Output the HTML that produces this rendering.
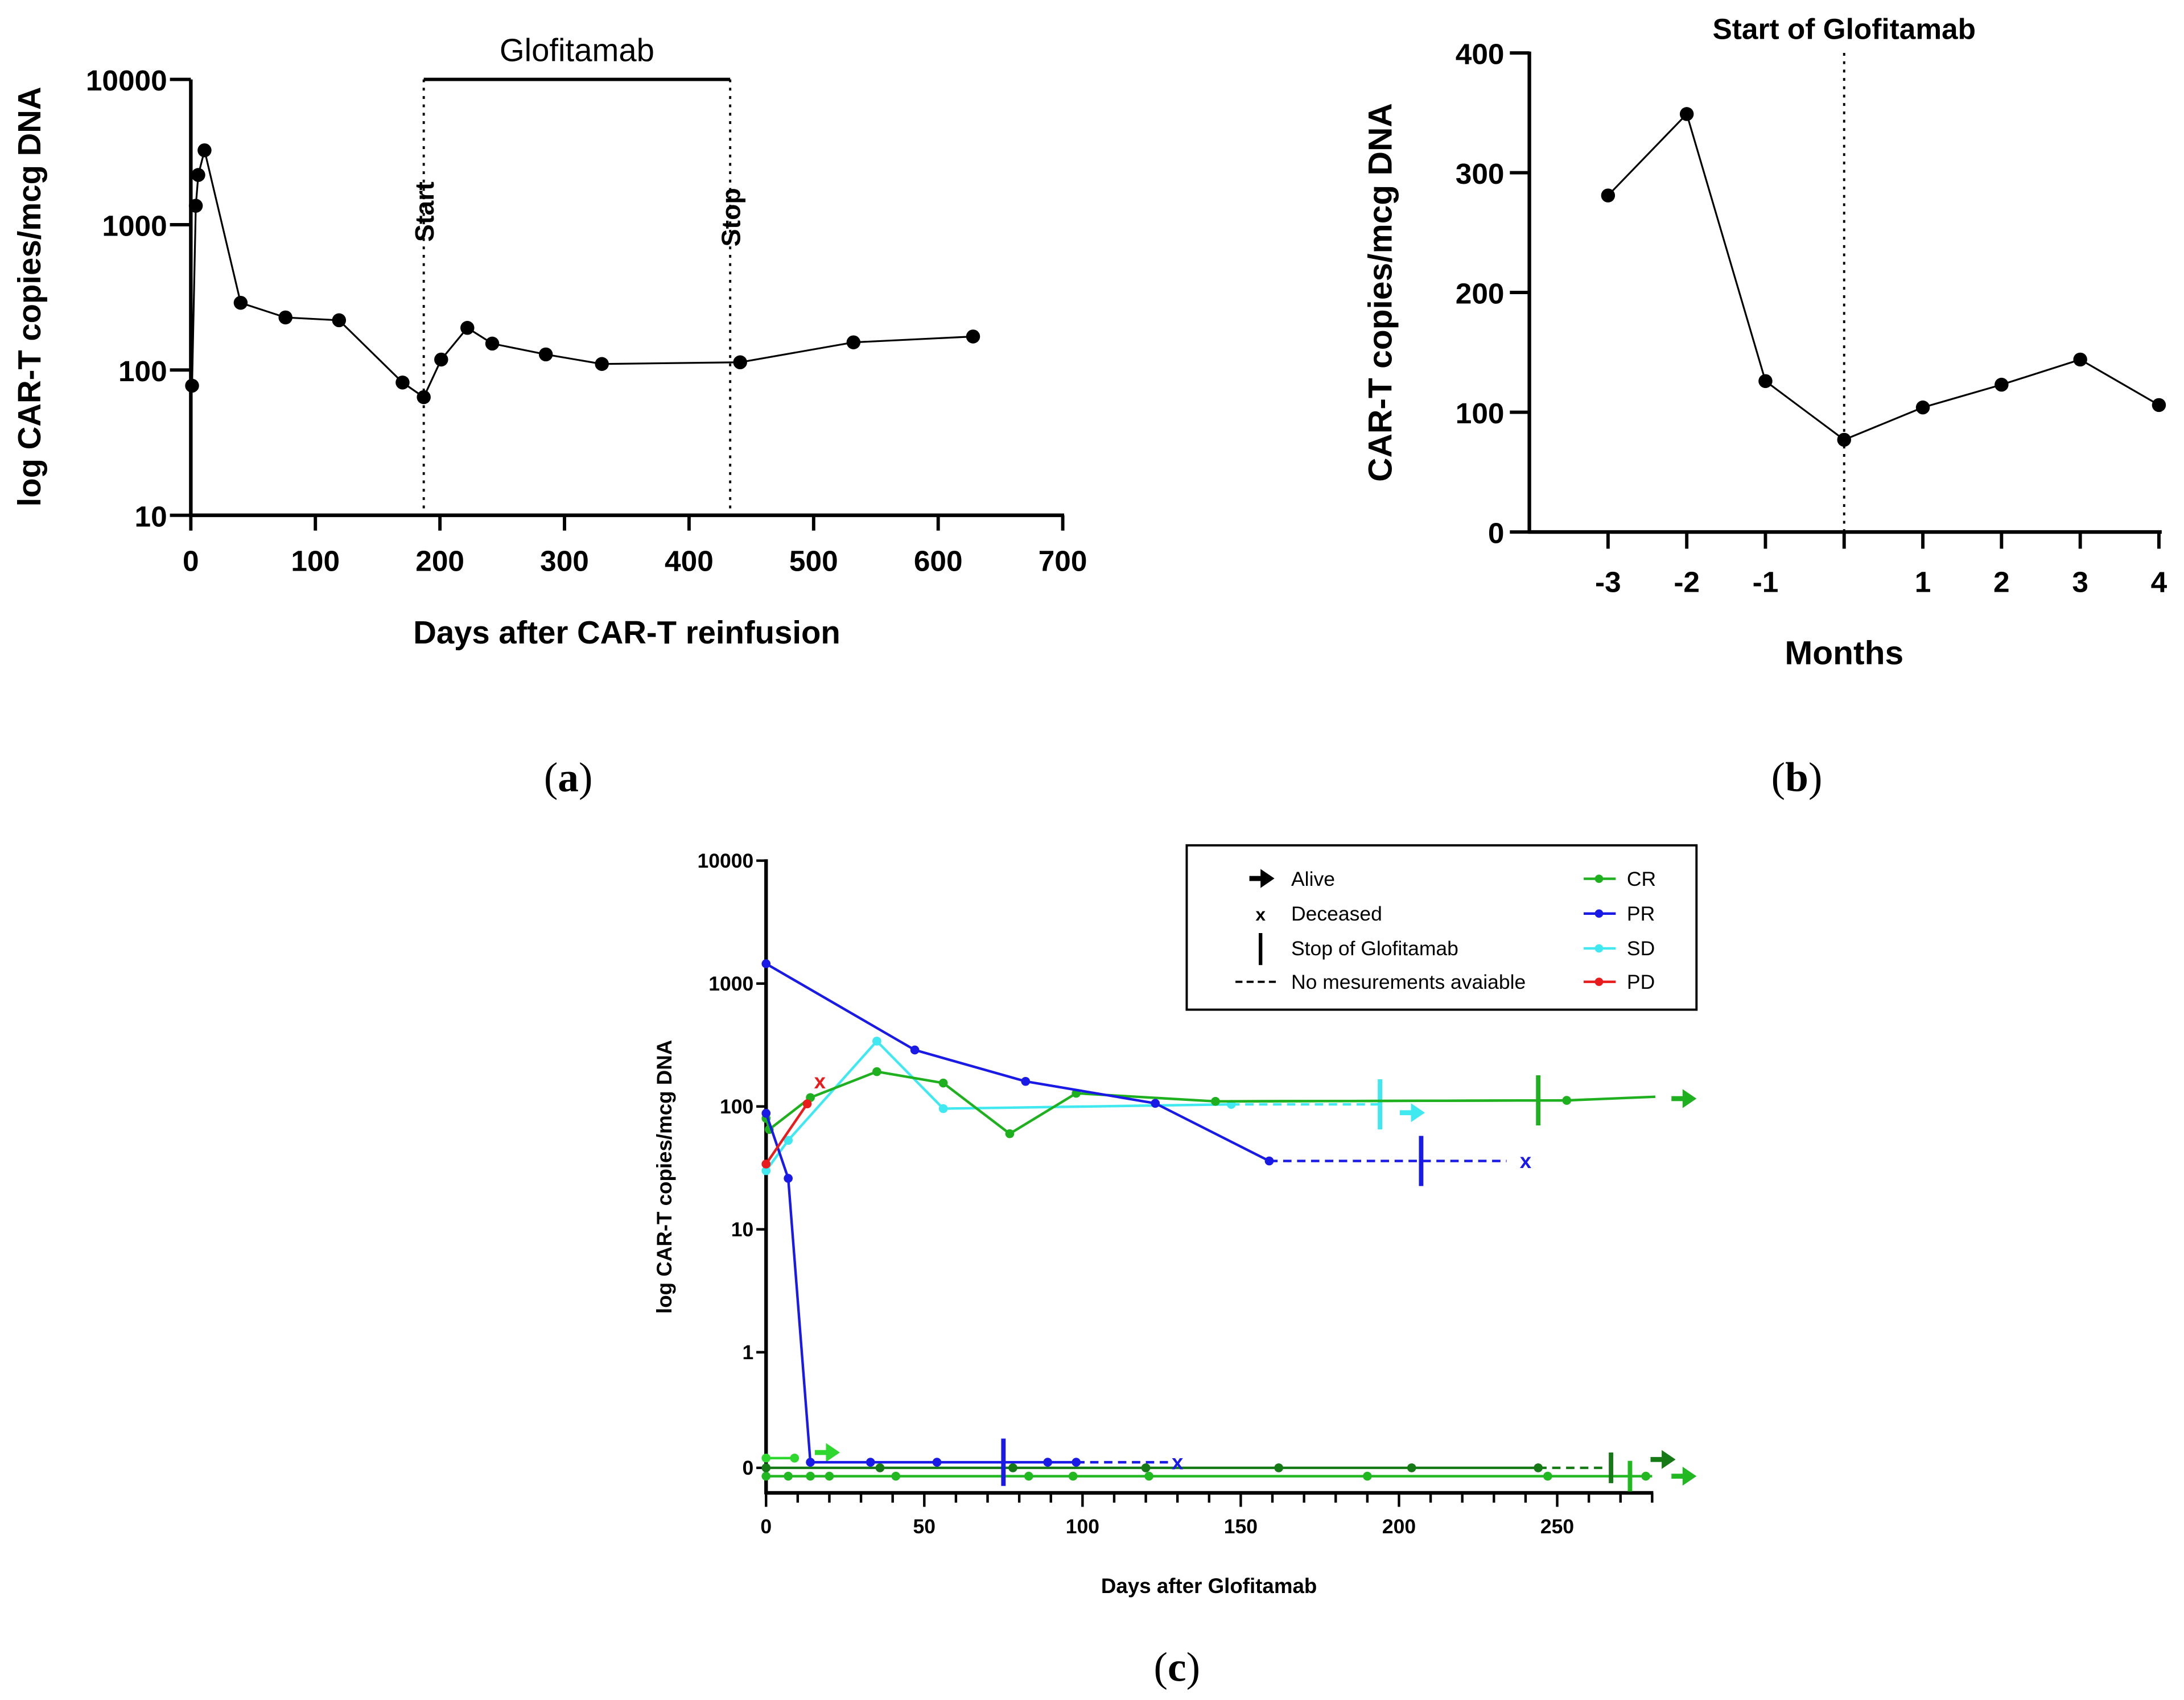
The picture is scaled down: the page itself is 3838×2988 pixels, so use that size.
<!DOCTYPE html>
<html><head><meta charset="utf-8"><style>
html,body{margin:0;padding:0;background:#fff}
svg{display:block}
text{font-family:"Liberation Sans",Arial,sans-serif}
text.serif{font-family:"Liberation Serif","DejaVu Serif",serif}
</style></head><body>
<svg id="fig" xmlns="http://www.w3.org/2000/svg" width="3838" height="2988" viewBox="0 0 1568 1220.7">
<rect width="1568" height="1220.7" fill="#fff"/>
<g id="pa"></g>
<g id="pb"></g>
<g id="pc"></g>
<text class="serif" x="408" y="568" font-size="30" text-anchor="middle">(<tspan font-weight="bold">a</tspan>)</text>
<text class="serif" x="1290" y="568" font-size="30" text-anchor="middle">(<tspan font-weight="bold">b</tspan>)</text>
<text class="serif" x="845" y="1207" font-size="30" text-anchor="middle">(<tspan font-weight="bold">c</tspan>)</text>
</svg>
<script>
// ---- Panel A data ----
const aDays = [1,4,6,11,40,76,119,170,187,201,222,242,285,330,441,532,628];
const aValues = [78,1350,2200,3250,290,230,220,82,65,118,195,152,128,110,113,155,170];
const aXTicks = [0,100,200,300,400,500,600,700];
const aYTicks = [10,100,1000,10000];
const aStartDay = 187, aStopDay = 433;
// ---- Panel B data ----
const bMonths = [-3,-2,-1,0,1,2,3,4];
const bValues = [281,349,126,77,104,123,144,106];
const bXTickLabels = ["-3","-2","-1","","1","2","3","4"];
const bYTicks = [0,100,200,300,400];
// ---- Panel C data ----
const cXTicks = [0,50,100,150,200,250];
const cYTicks = [10000,1000,100,10,1,0];
const prHighDays = [0,47,82,123,159];
const prHighVals = [1450,288,160,106,36];
const prLowDays = [0,7,14,33,54,89,98];
const prLowVals = [88,26,0.08,0.08,0.08,0.08,0.08];
const sdDays = [0,7,35,56,147];
const sdVals = [30,53,340,96,104];
const crDays = [0,1,14,35,56,77,98,142,253];
const crVals = [80,65,118,192,155,60,128,110,112];
const pdDays = [0,13];
const pdVals = [34,105];
const lgDays = [0,9];
const lgVals = [0.14,0.14];
const dgDays = [0,36,78,120,162,204,244];
const dgVals = [0,0,0,0,0,0,0];
const g2Days = [0,7,14,20,41,83,97,121,190,247,278];
const g2Vals = [-0.12,-0.12,-0.12,-0.12,-0.12,-0.12,-0.12,-0.12,-0.12,-0.12,-0.12];

const NS="http://www.w3.org/2000/svg";
function mk(parent,tag,attrs,txt){const e=document.createElementNS(NS,tag);for(const k in attrs)e.setAttribute(k,attrs[k]);if(txt!==undefined)e.textContent=txt;parent.appendChild(e);return e;}

// ===== Panel A =====
const pa=document.getElementById('pa');
const ax=d=>137+d*(626/700);
const ay=v=>370-(Math.log10(v)-1)*104.33;
let e;
e=mk(pa,'line',{x1:137,y1:57,x2:137,y2:371,stroke:'#000','stroke-width':2.6});

e=mk(pa,'line',{x1:136,y1:370,x2:764,y2:370,stroke:'#000','stroke-width':2.6});

aXTicks.forEach(t=>{mk(pa,'line',{x1:ax(t),y1:370,x2:ax(t),y2:381,stroke:'#000','stroke-width':2.4});
 e=mk(pa,'text',{x:ax(t),y:410,'font-size':21,'font-weight':'bold','text-anchor':'middle'},String(t));
 });
aYTicks.forEach(t=>{mk(pa,'line',{x1:122,y1:ay(t),x2:137,y2:ay(t),stroke:'#000','stroke-width':2.4});
 e=mk(pa,'text',{x:120,y:ay(t)+8,'font-size':21,'font-weight':'bold','text-anchor':'end'},String(t));
 });
[aStartDay,aStopDay].forEach((d,i)=>{e=mk(pa,'line',{x1:ax(d),y1:57,x2:ax(d),y2:370,stroke:'#000','stroke-width':1.6,'stroke-dasharray':'2,4'});
 
 e=mk(pa,'text',{x:0,y:0,'font-size':19,'font-weight':'bold','text-anchor':'middle',transform:`translate(${ax(d)+7},${i?156:152}) rotate(-90)`},i?'Stop':'Start');
 });
e=mk(pa,'line',{x1:ax(aStartDay),y1:57,x2:ax(aStopDay),y2:57,stroke:'#000','stroke-width':2.4});

e=mk(pa,'text',{x:(ax(aStartDay)+ax(aStopDay))/2,y:44,'font-size':23,'text-anchor':'middle'},'Glofitamab');

e=mk(pa,'polyline',{points:aDays.map((d,i)=>ax(d)+','+ay(aValues[i])).join(' '),fill:'none',stroke:'#000','stroke-width':1.3});

aDays.forEach((d,i)=>{e=mk(pa,'circle',{cx:ax(d),cy:ay(aValues[i]),r:5,fill:'#000'});
 });
e=mk(pa,'text',{x:0,y:0,'font-size':23,'font-weight':'bold','text-anchor':'middle',transform:'translate(29,213) rotate(-90)'},'log CAR-T copies/mcg DNA');

e=mk(pa,'text',{x:450,y:462,'font-size':23,'font-weight':'bold','text-anchor':'middle'},'Days after CAR-T reinfusion');


// ===== Panel B =====
const pb=document.getElementById('pb');
const bx=m=>1324+m*56.5;
const by=v=>382-v*0.86;
e=mk(pb,'line',{x1:1098,y1:37,x2:1098,y2:383,stroke:'#000','stroke-width':2.6});

e=mk(pb,'line',{x1:1097,y1:382,x2:1552,y2:382,stroke:'#000','stroke-width':2.6});

bMonths.forEach((m,i)=>{mk(pb,'line',{x1:bx(m),y1:382,x2:bx(m),y2:394,stroke:'#000','stroke-width':2.4});
 e=mk(pb,'text',{x:bx(m),y:425,'font-size':21,'font-weight':'bold','text-anchor':'middle'},bXTickLabels[i]);
 });
bYTicks.forEach(t=>{mk(pb,'line',{x1:1084,y1:by(t),x2:1098,y2:by(t),stroke:'#000','stroke-width':2.4});
 e=mk(pb,'text',{x:1080,y:by(t)+8,'font-size':21,'font-weight':'bold','text-anchor':'end'},String(t));
 });
e=mk(pb,'line',{x1:bx(0),y1:38,x2:bx(0),y2:382,stroke:'#000','stroke-width':1.6,'stroke-dasharray':'2,4'});

e=mk(pb,'text',{x:bx(0),y:28,'font-size':21,'font-weight':'bold','text-anchor':'middle'},'Start of Glofitamab');

e=mk(pb,'polyline',{points:bMonths.map((m,i)=>bx(m)+','+by(bValues[i])).join(' '),fill:'none',stroke:'#000','stroke-width':1.3});

bMonths.forEach((m,i)=>{e=mk(pb,'circle',{cx:bx(m),cy:by(bValues[i]),r:5,fill:'#000'});
 });
e=mk(pb,'text',{x:0,y:0,'font-size':24,'font-weight':'bold','text-anchor':'middle',transform:'translate(999,210) rotate(-90)'},'CAR-T copies/mcg DNA');

e=mk(pb,'text',{x:1324,y:477,'font-size':24,'font-weight':'bold','text-anchor':'middle'},'Months');


// ===== Panel C =====
const pc=document.getElementById('pc');
const cx=d=>550+d*2.272;
const cy=v=>v>=1?971-Math.log10(v)*88.25:1054-v*50;
const BLUE='#1a1ae6',CYAN='#40e8f0',GREEN='#1fb01f',RED='#e81c1c',LG='#2fd82f',DG='#157a15',G2='#22b822';
e=mk(pc,'line',{x1:550,y1:617,x2:550,y2:1073,stroke:'#000','stroke-width':2.6});

e=mk(pc,'line',{x1:549,y1:1072,x2:1187,y2:1072,stroke:'#000','stroke-width':2.6});

for(let d=0;d<=280;d+=10){mk(pc,'line',{x1:cx(d),y1:1072,x2:cx(d),y2:d%50===0?1082:1079,stroke:'#000','stroke-width':1.8});}
cXTicks.forEach(t=>{e=mk(pc,'text',{x:cx(t),y:1101,'font-size':14.5,'font-weight':'bold','text-anchor':'middle'},String(t));
 });
cYTicks.forEach(t=>{mk(pc,'line',{x1:543,y1:cy(t),x2:550,y2:cy(t),stroke:'#000','stroke-width':1.8});
 e=mk(pc,'text',{x:541,y:cy(t)+5,'font-size':14.5,'font-weight':'bold','text-anchor':'end'},String(t));
 });
e=mk(pc,'text',{x:0,y:0,'font-size':15,'font-weight':'bold','text-anchor':'middle',transform:'translate(482,845) rotate(-90)'},'log CAR-T copies/mcg DNA');

e=mk(pc,'text',{x:868,y:1144,'font-size':15,'font-weight':'bold','text-anchor':'middle'},'Days after Glofitamab');


function series(days,vals,color,name){
 e=mk(pc,'polyline',{points:days.map((d,i)=>cx(d)+','+cy(vals[i])).join(' '),fill:'none',stroke:color,'stroke-width':1.8});
 
 days.forEach((d,i)=>{e=mk(pc,'circle',{cx:cx(d),cy:cy(vals[i]),r:3.2,fill:color});
  });}
function dash(d1,d2,v,color){e=mk(pc,'line',{x1:cx(d1),y1:cy(v),x2:cx(d2),y2:cy(v),stroke:color,'stroke-width':1.8,'stroke-dasharray':'6,4'});
 }
function bar(d,v,color,h){e=mk(pc,'line',{x1:cx(d),y1:cy(v)-h,x2:cx(d),y2:cy(v)+h,stroke:color,'stroke-width':3.2});
 }
function arrow(x,y,color){e=mk(pc,'path',{d:`M${x},${y-1.8}h8v-5l10,6.8l-10,6.8v-5h-8z`,fill:color});
 }
function cross(d,v,color){e=mk(pc,'text',{x:cx(d),y:cy(v)+5,'font-size':15,'font-weight':'bold','text-anchor':'middle',fill:color},'x');
 }

series(g2Days,g2Vals,G2,'cr-low-2');
e=mk(pc,'line',{x1:cx(278),y1:cy(-0.12),x2:cx(280),y2:cy(-0.12),stroke:G2,'stroke-width':1.8});
bar(273,-0.12,G2,11);arrow(1200,cy(-0.12),G2);
series(dgDays,dgVals,DG,'cr-low-1');dash(244,266,0,DG);bar(267,0,DG,11);arrow(1185,cy(0)-6,DG);
series(lgDays,lgVals,LG,'cr-low-3');arrow(585,cy(0.14)-4,LG);
series(sdDays,sdVals,CYAN,'sd');dash(147,194,104,CYAN);bar(194,104,CYAN,18);arrow(1005,cy(104)+6,CYAN);
series(crDays,crVals,GREEN,'cr');
e=mk(pc,'polyline',{points:`${cx(142)},${cy(110)} ${cx(253)},${cy(112)} ${cx(281)},${cy(120)}`,fill:'none',stroke:GREEN,'stroke-width':1.8});
bar(244,112,GREEN,18);arrow(1200,cy(122)+2,GREEN);
series(prHighDays,prHighVals,BLUE,'pr-1');dash(159,234,36,BLUE);bar(207,36,BLUE,18);cross(240,36,BLUE);
series(prLowDays,prLowVals,BLUE,'pr-2');dash(98,127,0.08,BLUE);bar(75,0.08,BLUE,17);cross(130,0.08,BLUE);
series(pdDays,pdVals,RED,'pd');cross(17,160,RED);

const lg=mk(pc,'g',{});
mk(lg,'rect',{x:852,y:607,width:366,height:118,fill:'#fff',stroke:'#000','stroke-width':1.6});
const L=[["Alive","CR",GREEN,631],["Deceased","PR",BLUE,656],["Stop of Glofitamab","SD",CYAN,681],["No mesurements avaiable","PD",RED,705]];
L.forEach(([a,b,c,y],i)=>{
 e=mk(lg,'text',{x:927,y:y+5,'font-size':14.5},a);
 e=mk(lg,'text',{x:1168,y:y+5,'font-size':14.5},b);
 mk(lg,'line',{x1:1137,y1:y,x2:1160,y2:y,stroke:c,'stroke-width':1.8});
 mk(lg,'circle',{cx:1148,cy:y,r:3,fill:c});});
mk(lg,'path',{d:'M897,629h8v-5l10,6.8l-10,6.8v-5h-8z',fill:'#000'});
mk(lg,'text',{x:905,y:661,'font-size':13,'font-weight':'bold','text-anchor':'middle'},'x');
mk(lg,'line',{x1:905,y1:670,x2:905,y2:693,stroke:'#000','stroke-width':2.6});
mk(lg,'line',{x1:887,y1:705,x2:918,y2:705,stroke:'#000','stroke-width':1.6,'stroke-dasharray':'5,3'});
</script>
</body></html>
